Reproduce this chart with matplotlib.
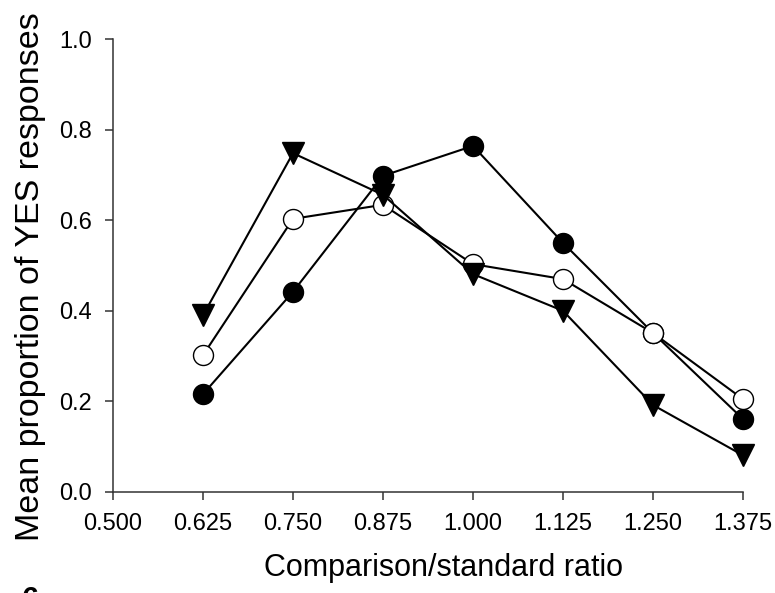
import numpy as np
import matplotlib.pyplot as plt

plt.rcParams['font.family'] = ['Liberation Sans', 'DejaVu Sans']

# comparison/standard ratio on the x axis
ratio = [0.625, 0.750, 0.875, 1.000, 1.125, 1.250, 1.375]
xticks = [0.500, 0.625, 0.750, 0.875, 1.000, 1.125, 1.250, 1.375]

# mean proportion of YES responses per condition
filled_circles = [0.216, 0.442, 0.698, 0.764, 0.55, 0.351, 0.161]
open_circles = [0.302, 0.603, 0.634, 0.503, 0.47, 0.351, 0.205]
triangles = [0.39, 0.748, 0.656, 0.481, 0.40, 0.192, 0.081]

fig = plt.figure(figsize=(7.75, 5.93), dpi=100)
ax = fig.add_axes([113 / 775, 101 / 593, 630 / 775, 453 / 593])

ax.plot(ratio, filled_circles, color='black', lw=1.5, marker='o', ms=14.4,
        mfc='black', mec='black', mew=1.0, zorder=3, clip_on=False)
ax.plot(ratio, open_circles, color='black', lw=1.5, marker='o', ms=14.4,
        mfc='white', mec='black', mew=1.0, zorder=4, clip_on=False)
ax.plot(ratio, triangles, color='black', lw=1.5, marker='v', ms=16,
        mfc='black', mec='black', mew=1.0, zorder=5, clip_on=False)

ax.set_xlim(0.5, 1.375)
ax.set_ylim(0, 1.0)
ax.set_xticks(xticks)
ax.set_xticklabels(['%.3f' % t for t in xticks])
yt = np.arange(0, 1.01, 0.2)
ax.set_yticks(yt)
ax.set_yticklabels(['%.1f' % t for t in yt])

for s in ['top', 'right']:
    ax.spines[s].set_visible(False)
for s in ['left', 'bottom']:
    ax.spines[s].set_linewidth(1.1)
    ax.spines[s].set_color('#333333')
ax.tick_params(direction='out', length=6, width=1.1, color='#333333',
               labelsize=17)
ax.tick_params(axis='x', pad=9)
ax.tick_params(axis='y', pad=9)

ax.set_xlabel('Comparison/standard ratio', fontsize=22)
ax.set_ylabel('Mean proportion of YES responses', fontsize=24.5)
ax.xaxis.set_label_coords(0.524, -0.135)
ax.yaxis.set_label_coords(-0.106, 0.475)

fig.text(0.028, 0.012, '6', fontsize=22, va='top', ha='left', fontweight='bold')

fig.savefig('out.png', dpi=100)
